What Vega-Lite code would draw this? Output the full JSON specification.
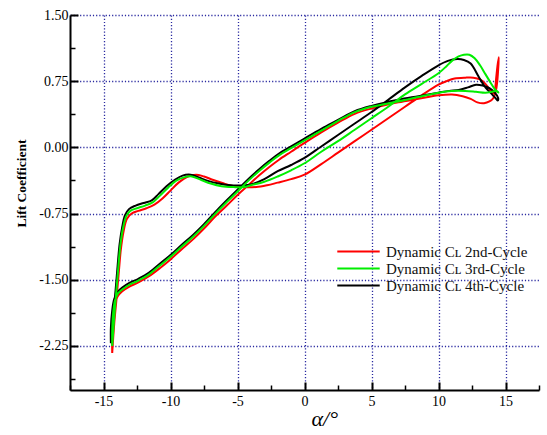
{
  "$schema": "https://vega.github.io/schema/vega-lite/v6.json",
  "width": 469,
  "height": 375,
  "autosize": {"type": "none"},
  "padding": {"left": 70, "top": 15, "right": 8, "bottom": 45},
  "config": {"view": {"stroke": null}, "font": "Liberation Serif"},
  "datasets": {
    "d": [
      {"c":"4th","i":1,"a":-14.45,"cl":-2.22},{"c":"4th","i":2,"a":-14.3,"cl":-1.95},{"c":"4th","i":3,"a":-14.1,"cl":-1.62},{"c":"4th","i":4,"a":-13.95,"cl":-1.35},{"c":"4th","i":5,"a":-13.8,"cl":-1.1},{"c":"4th","i":6,"a":-13.6,"cl":-0.9},{"c":"4th","i":7,"a":-13.4,"cl":-0.77},{"c":"4th","i":8,"a":-13.1,"cl":-0.7},{"c":"4th","i":9,"a":-12.6,"cl":-0.66},{"c":"4th","i":10,"a":-12.0,"cl":-0.63},{"c":"4th","i":11,"a":-11.4,"cl":-0.6},{"c":"4th","i":12,"a":-10.9,"cl":-0.53},{"c":"4th","i":13,"a":-10.3,"cl":-0.44},{"c":"4th","i":14,"a":-9.7,"cl":-0.37},{"c":"4th","i":15,"a":-9.1,"cl":-0.32},{"c":"4th","i":16,"a":-8.5,"cl":-0.31},{"c":"4th","i":17,"a":-7.9,"cl":-0.34},{"c":"4th","i":18,"a":-7.2,"cl":-0.38},{"c":"4th","i":19,"a":-6.4,"cl":-0.41},{"c":"4th","i":20,"a":-5.5,"cl":-0.43},{"c":"4th","i":21,"a":-4.6,"cl":-0.43},{"c":"4th","i":22,"a":-4.0,"cl":-0.42},{"c":"4th","i":23,"a":-3.0,"cl":-0.36},{"c":"4th","i":24,"a":-2.0,"cl":-0.27},{"c":"4th","i":25,"a":-1.0,"cl":-0.2},{"c":"4th","i":26,"a":0,"cl":-0.12},{"c":"4th","i":27,"a":1.25,"cl":0.01},{"c":"4th","i":28,"a":2.5,"cl":0.14},{"c":"4th","i":29,"a":3.75,"cl":0.27},{"c":"4th","i":30,"a":5,"cl":0.4},{"c":"4th","i":31,"a":6.25,"cl":0.54},{"c":"4th","i":32,"a":7.5,"cl":0.68},{"c":"4th","i":33,"a":8.75,"cl":0.81},{"c":"4th","i":34,"a":10,"cl":0.93},{"c":"4th","i":35,"a":10.7,"cl":0.98},{"c":"4th","i":36,"a":11.4,"cl":1.0},{"c":"4th","i":37,"a":11.9,"cl":0.99},{"c":"4th","i":38,"a":12.4,"cl":0.95},{"c":"4th","i":39,"a":13.0,"cl":0.8},{"c":"4th","i":40,"a":13.5,"cl":0.68},{"c":"4th","i":41,"a":14.0,"cl":0.6},{"c":"4th","i":42,"a":14.3,"cl":0.55},{"c":"4th","i":43,"a":14.42,"cl":0.53},{"c":"4th","i":44,"a":14.45,"cl":0.56},{"c":"4th","i":45,"a":14.2,"cl":0.62},{"c":"4th","i":46,"a":13.8,"cl":0.67},{"c":"4th","i":47,"a":13.3,"cl":0.7},{"c":"4th","i":48,"a":12.8,"cl":0.71},{"c":"4th","i":49,"a":12.2,"cl":0.68},{"c":"4th","i":50,"a":11.5,"cl":0.65},{"c":"4th","i":51,"a":10.8,"cl":0.64},{"c":"4th","i":52,"a":10,"cl":0.62},{"c":"4th","i":53,"a":8.5,"cl":0.58},{"c":"4th","i":54,"a":7,"cl":0.54},{"c":"4th","i":55,"a":5,"cl":0.47},{"c":"4th","i":56,"a":3.75,"cl":0.41},{"c":"4th","i":57,"a":2.5,"cl":0.31},{"c":"4th","i":58,"a":1.25,"cl":0.21},{"c":"4th","i":59,"a":0,"cl":0.1},{"c":"4th","i":60,"a":-1,"cl":0.01},{"c":"4th","i":61,"a":-1.9,"cl":-0.07},{"c":"4th","i":62,"a":-2.6,"cl":-0.15},{"c":"4th","i":63,"a":-3.4,"cl":-0.25},{"c":"4th","i":64,"a":-4.2,"cl":-0.36},{"c":"4th","i":65,"a":-5,"cl":-0.48},{"c":"4th","i":66,"a":-5.8,"cl":-0.6},{"c":"4th","i":67,"a":-6.7,"cl":-0.74},{"c":"4th","i":68,"a":-7.5,"cl":-0.87},{"c":"4th","i":69,"a":-8.3,"cl":-0.99},{"c":"4th","i":70,"a":-9.2,"cl":-1.11},{"c":"4th","i":71,"a":-10,"cl":-1.22},{"c":"4th","i":72,"a":-10.8,"cl":-1.32},{"c":"4th","i":73,"a":-11.6,"cl":-1.42},{"c":"4th","i":74,"a":-12.4,"cl":-1.49},{"c":"4th","i":75,"a":-13.1,"cl":-1.54},{"c":"4th","i":76,"a":-13.6,"cl":-1.59},{"c":"4th","i":77,"a":-13.95,"cl":-1.64},{"c":"4th","i":78,"a":-14.2,"cl":-1.72},{"c":"4th","i":79,"a":-14.35,"cl":-1.85},{"c":"4th","i":80,"a":-14.45,"cl":-2.05},{"c":"4th","i":81,"a":-14.45,"cl":-2.22},

      {"c":"3rd","i":1,"a":-14.35,"cl":-2.25},{"c":"3rd","i":2,"a":-14.22,"cl":-1.97},{"c":"3rd","i":3,"a":-14.05,"cl":-1.64},{"c":"3rd","i":4,"a":-13.9,"cl":-1.37},{"c":"3rd","i":5,"a":-13.75,"cl":-1.12},{"c":"3rd","i":6,"a":-13.55,"cl":-0.92},{"c":"3rd","i":7,"a":-13.3,"cl":-0.78},{"c":"3rd","i":8,"a":-13.0,"cl":-0.72},{"c":"3rd","i":9,"a":-12.5,"cl":-0.69},{"c":"3rd","i":10,"a":-11.9,"cl":-0.66},{"c":"3rd","i":11,"a":-11.3,"cl":-0.62},{"c":"3rd","i":12,"a":-10.8,"cl":-0.55},{"c":"3rd","i":13,"a":-10.2,"cl":-0.46},{"c":"3rd","i":14,"a":-9.6,"cl":-0.38},{"c":"3rd","i":15,"a":-9.0,"cl":-0.34},{"c":"3rd","i":16,"a":-8.4,"cl":-0.33},{"c":"3rd","i":17,"a":-7.7,"cl":-0.37},{"c":"3rd","i":18,"a":-7.0,"cl":-0.41},{"c":"3rd","i":19,"a":-6.2,"cl":-0.44},{"c":"3rd","i":20,"a":-5.3,"cl":-0.45},{"c":"3rd","i":21,"a":-4.5,"cl":-0.45},{"c":"3rd","i":22,"a":-4.0,"cl":-0.43},{"c":"3rd","i":23,"a":-3.0,"cl":-0.39},{"c":"3rd","i":24,"a":-2.0,"cl":-0.33},{"c":"3rd","i":25,"a":-1.0,"cl":-0.26},{"c":"3rd","i":26,"a":0,"cl":-0.18},{"c":"3rd","i":27,"a":1.25,"cl":-0.05},{"c":"3rd","i":28,"a":2.5,"cl":0.07},{"c":"3rd","i":29,"a":3.75,"cl":0.2},{"c":"3rd","i":30,"a":5,"cl":0.33},{"c":"3rd","i":31,"a":6.25,"cl":0.46},{"c":"3rd","i":32,"a":7.5,"cl":0.6},{"c":"3rd","i":33,"a":8.75,"cl":0.72},{"c":"3rd","i":34,"a":10,"cl":0.84},{"c":"3rd","i":35,"a":10.6,"cl":0.92},{"c":"3rd","i":36,"a":11.0,"cl":0.98},{"c":"3rd","i":37,"a":11.5,"cl":1.03},{"c":"3rd","i":38,"a":11.9,"cl":1.05},{"c":"3rd","i":39,"a":12.3,"cl":1.05},{"c":"3rd","i":40,"a":12.7,"cl":1.01},{"c":"3rd","i":41,"a":13.1,"cl":0.93},{"c":"3rd","i":42,"a":13.5,"cl":0.83},{"c":"3rd","i":43,"a":13.9,"cl":0.73},{"c":"3rd","i":44,"a":14.2,"cl":0.66},{"c":"3rd","i":45,"a":14.47,"cl":0.62},{"c":"3rd","i":46,"a":14.35,"cl":0.64},{"c":"3rd","i":47,"a":14.0,"cl":0.63},{"c":"3rd","i":48,"a":13.5,"cl":0.62},{"c":"3rd","i":49,"a":12.8,"cl":0.63},{"c":"3rd","i":50,"a":12.0,"cl":0.64},{"c":"3rd","i":51,"a":11.0,"cl":0.64},{"c":"3rd","i":52,"a":10,"cl":0.62},{"c":"3rd","i":53,"a":8.5,"cl":0.57},{"c":"3rd","i":54,"a":7,"cl":0.52},{"c":"3rd","i":55,"a":5,"cl":0.46},{"c":"3rd","i":56,"a":3.75,"cl":0.4},{"c":"3rd","i":57,"a":2.5,"cl":0.3},{"c":"3rd","i":58,"a":1.25,"cl":0.19},{"c":"3rd","i":59,"a":0,"cl":0.08},{"c":"3rd","i":60,"a":-1,"cl":-0.01},{"c":"3rd","i":61,"a":-1.9,"cl":-0.09},{"c":"3rd","i":62,"a":-2.6,"cl":-0.17},{"c":"3rd","i":63,"a":-3.4,"cl":-0.27},{"c":"3rd","i":64,"a":-4.2,"cl":-0.38},{"c":"3rd","i":65,"a":-5,"cl":-0.5},{"c":"3rd","i":66,"a":-5.8,"cl":-0.62},{"c":"3rd","i":67,"a":-6.7,"cl":-0.76},{"c":"3rd","i":68,"a":-7.5,"cl":-0.89},{"c":"3rd","i":69,"a":-8.3,"cl":-1.01},{"c":"3rd","i":70,"a":-9.2,"cl":-1.13},{"c":"3rd","i":71,"a":-10,"cl":-1.24},{"c":"3rd","i":72,"a":-10.8,"cl":-1.34},{"c":"3rd","i":73,"a":-11.6,"cl":-1.44},{"c":"3rd","i":74,"a":-12.4,"cl":-1.51},{"c":"3rd","i":75,"a":-13.1,"cl":-1.56},{"c":"3rd","i":76,"a":-13.6,"cl":-1.61},{"c":"3rd","i":77,"a":-13.95,"cl":-1.66},{"c":"3rd","i":78,"a":-14.15,"cl":-1.74},{"c":"3rd","i":79,"a":-14.28,"cl":-1.88},{"c":"3rd","i":80,"a":-14.35,"cl":-2.08},{"c":"3rd","i":81,"a":-14.35,"cl":-2.25},

      {"c":"2nd","i":1,"a":-14.35,"cl":-2.33},{"c":"2nd","i":2,"a":-14.2,"cl":-2.0},{"c":"2nd","i":3,"a":-14.0,"cl":-1.67},{"c":"2nd","i":4,"a":-13.85,"cl":-1.4},{"c":"2nd","i":5,"a":-13.7,"cl":-1.15},{"c":"2nd","i":6,"a":-13.5,"cl":-0.95},{"c":"2nd","i":7,"a":-13.25,"cl":-0.81},{"c":"2nd","i":8,"a":-12.9,"cl":-0.75},{"c":"2nd","i":9,"a":-12.4,"cl":-0.72},{"c":"2nd","i":10,"a":-11.8,"cl":-0.69},{"c":"2nd","i":11,"a":-11.2,"cl":-0.65},{"c":"2nd","i":12,"a":-10.6,"cl":-0.58},{"c":"2nd","i":13,"a":-10.0,"cl":-0.49},{"c":"2nd","i":14,"a":-9.4,"cl":-0.4},{"c":"2nd","i":15,"a":-8.7,"cl":-0.33},{"c":"2nd","i":16,"a":-8.1,"cl":-0.31},{"c":"2nd","i":17,"a":-7.5,"cl":-0.33},{"c":"2nd","i":18,"a":-6.8,"cl":-0.37},{"c":"2nd","i":19,"a":-6.0,"cl":-0.41},{"c":"2nd","i":20,"a":-5.2,"cl":-0.44},{"c":"2nd","i":21,"a":-4.4,"cl":-0.45},{"c":"2nd","i":22,"a":-3.6,"cl":-0.45},{"c":"2nd","i":23,"a":-2.8,"cl":-0.43},{"c":"2nd","i":24,"a":-2.0,"cl":-0.4},{"c":"2nd","i":25,"a":-1.0,"cl":-0.36},{"c":"2nd","i":26,"a":0,"cl":-0.31},{"c":"2nd","i":27,"a":1.25,"cl":-0.19},{"c":"2nd","i":28,"a":2.5,"cl":-0.06},{"c":"2nd","i":29,"a":3.75,"cl":0.07},{"c":"2nd","i":30,"a":5,"cl":0.2},{"c":"2nd","i":31,"a":6.25,"cl":0.33},{"c":"2nd","i":32,"a":7.5,"cl":0.46},{"c":"2nd","i":33,"a":8.75,"cl":0.59},{"c":"2nd","i":34,"a":10,"cl":0.71},{"c":"2nd","i":35,"a":10.6,"cl":0.75},{"c":"2nd","i":36,"a":11.2,"cl":0.78},{"c":"2nd","i":37,"a":12,"cl":0.79},{"c":"2nd","i":38,"a":12.6,"cl":0.79},{"c":"2nd","i":39,"a":13.1,"cl":0.77},{"c":"2nd","i":40,"a":13.5,"cl":0.72},{"c":"2nd","i":41,"a":13.8,"cl":0.66},{"c":"2nd","i":42,"a":14.05,"cl":0.61},{"c":"2nd","i":43,"a":14.2,"cl":0.65},{"c":"2nd","i":44,"a":14.3,"cl":0.78},{"c":"2nd","i":45,"a":14.4,"cl":0.92},{"c":"2nd","i":46,"a":14.5,"cl":1.02},{"c":"2nd","i":47,"a":14.45,"cl":0.88},{"c":"2nd","i":48,"a":14.38,"cl":0.74},{"c":"2nd","i":49,"a":14.28,"cl":0.64},{"c":"2nd","i":50,"a":14.1,"cl":0.56},{"c":"2nd","i":51,"a":13.8,"cl":0.52},{"c":"2nd","i":52,"a":13.4,"cl":0.5},{"c":"2nd","i":53,"a":12.9,"cl":0.51},{"c":"2nd","i":54,"a":12.4,"cl":0.55},{"c":"2nd","i":55,"a":11.8,"cl":0.58},{"c":"2nd","i":56,"a":11.0,"cl":0.6},{"c":"2nd","i":57,"a":10,"cl":0.59},{"c":"2nd","i":58,"a":8.5,"cl":0.55},{"c":"2nd","i":59,"a":7,"cl":0.51},{"c":"2nd","i":60,"a":5,"cl":0.44},{"c":"2nd","i":61,"a":3.75,"cl":0.38},{"c":"2nd","i":62,"a":2.5,"cl":0.28},{"c":"2nd","i":63,"a":1.25,"cl":0.17},{"c":"2nd","i":64,"a":0,"cl":0.05},{"c":"2nd","i":65,"a":-1,"cl":-0.05},{"c":"2nd","i":66,"a":-1.9,"cl":-0.14},{"c":"2nd","i":67,"a":-2.6,"cl":-0.22},{"c":"2nd","i":68,"a":-3.4,"cl":-0.32},{"c":"2nd","i":69,"a":-4.2,"cl":-0.43},{"c":"2nd","i":70,"a":-5,"cl":-0.54},{"c":"2nd","i":71,"a":-5.8,"cl":-0.66},{"c":"2nd","i":72,"a":-6.7,"cl":-0.79},{"c":"2nd","i":73,"a":-7.5,"cl":-0.92},{"c":"2nd","i":74,"a":-8.3,"cl":-1.04},{"c":"2nd","i":75,"a":-9.2,"cl":-1.16},{"c":"2nd","i":76,"a":-10,"cl":-1.27},{"c":"2nd","i":77,"a":-10.8,"cl":-1.37},{"c":"2nd","i":78,"a":-11.6,"cl":-1.46},{"c":"2nd","i":79,"a":-12.4,"cl":-1.53},{"c":"2nd","i":80,"a":-13.1,"cl":-1.58},{"c":"2nd","i":81,"a":-13.6,"cl":-1.63},{"c":"2nd","i":82,"a":-13.95,"cl":-1.69},{"c":"2nd","i":83,"a":-14.15,"cl":-1.8},{"c":"2nd","i":84,"a":-14.28,"cl":-1.98},{"c":"2nd","i":85,"a":-14.35,"cl":-2.15},{"c":"2nd","i":86,"a":-14.35,"cl":-2.33}
    ]
  },
  "data": {"name": "d"},
  "layer": [
    {
      "transform": [{"filter": "datum.c === '2nd'"}],
      "mark": {"type": "line", "strokeWidth": 2, "interpolate": "catmull-rom"},
      "encoding": {
        "x": {"field": "a", "type": "quantitative", "scale": {"domain": [-17.5, 17.5], "nice": false, "zero": false},
          "axis": {"values": [-15, -10, -5, 0, 5, 10, 15], "labelExpr": "replace(format(datum.value, 'd'), '\u2212', '-')", "title": "α/°", "titleFont": "Liberation Serif", "titleFontStyle": "italic", "titleFontWeight": "normal", "titleFontSize": 22, "titleX": 241, "titleY": 35, "titleBaseline": "alphabetic", "titleAlign": "left",
            "labelFont": "Liberation Serif", "labelFontSize": 14, "labelColor": "#000", "labelPadding": 12,
            "tickSize": -8, "tickWidth": 2, "tickColor": "#000", "domainColor": "#000", "domainWidth": 2,
            "grid": true, "gridColor": "#2a2aa0", "gridDash": [1.2, 2], "gridWidth": 1.3}},
        "y": {"field": "cl", "type": "quantitative", "scale": {"domain": [-2.75, 1.5], "nice": false, "zero": false},
          "axis": {"values": [1.5, 0.75, 0, -0.75, -1.5, -2.25], "labelExpr": "replace(format(datum.value, '.2f'), '\u2212', '-')", "title": "Lift Coefficient", "titleFont": "Liberation Serif", "titleFontWeight": "bold", "titleFontSize": 13.5, "titleX": -49, "titleY": 168, "titleBaseline": "middle", "titleAlign": "center", "titleAngle": -90,
            "labelFont": "Liberation Serif", "labelFontSize": 14, "labelColor": "#000", "labelPadding": 10,
            "tickSize": -8, "tickWidth": 2, "tickColor": "#000", "domainColor": "#000", "domainWidth": 2,
            "grid": true, "gridColor": "#2a2aa0", "gridDash": [1.2, 2], "gridWidth": 1.3}},
        "order": {"field": "i", "type": "quantitative"},
        "color": {"field": "c", "type": "nominal", "scale": {"domain": ["2nd", "3rd", "4th"], "range": ["#ff0000", "#00ee00", "#000000"]},
          "legend": {"orient": "none", "legendX": 280, "legendY": 228, "title": null, "symbolType": "M-3,0H3", "symbolSize": 200, "symbolStrokeWidth": 2.2, "labelFont": "Liberation Serif", "labelFontSize": 15, "labelColor": "#111", "labelOffset": 19, "rowPadding": 0,
            "labelExpr": "'Dynamic Cʟ ' + datum.label + '-Cycle'"}}
      }
    },
    {
      "transform": [{"filter": "datum.c === '4th'"}],
      "mark": {"type": "line", "strokeWidth": 2, "interpolate": "catmull-rom"},
      "encoding": {
        "x": {"field": "a", "type": "quantitative", "axis": null},
        "y": {"field": "cl", "type": "quantitative", "axis": null},
        "order": {"field": "i", "type": "quantitative"},
        "color": {"field": "c", "type": "nominal"}
      }
    },
    {
      "transform": [{"filter": "datum.c === '3rd'"}],
      "mark": {"type": "line", "strokeWidth": 2, "interpolate": "catmull-rom"},
      "encoding": {
        "x": {"field": "a", "type": "quantitative", "axis": null},
        "y": {"field": "cl", "type": "quantitative", "axis": null},
        "order": {"field": "i", "type": "quantitative"},
        "color": {"field": "c", "type": "nominal"}
      }
    },
    {
      "transform": [{"filter": "datum.c === '4th' && datum.i === 1"}],
      "mark": {"type": "point", "opacity": 0},
      "encoding": {
        "x": {"field": "a", "type": "quantitative",
          "axis": {"orient": "bottom", "values": [-17.5, -12.5, -7.5, -2.5, 2.5, 7.5, 12.5, 17.5], "labels": false, "domain": false, "grid": false, "title": null, "tickSize": -5, "tickWidth": 1.5, "tickColor": "#000"}},
        "y": {"field": "cl", "type": "quantitative",
          "axis": {"orient": "left", "values": [1.125, 0.375, -0.375, -1.125, -1.875, -2.625], "labels": false, "domain": false, "grid": false, "title": null, "tickSize": -5, "tickWidth": 1.5, "tickColor": "#000"}}
      }
    }
  ],
  "resolve": {"axis": {"x": "independent", "y": "independent"}}
}
